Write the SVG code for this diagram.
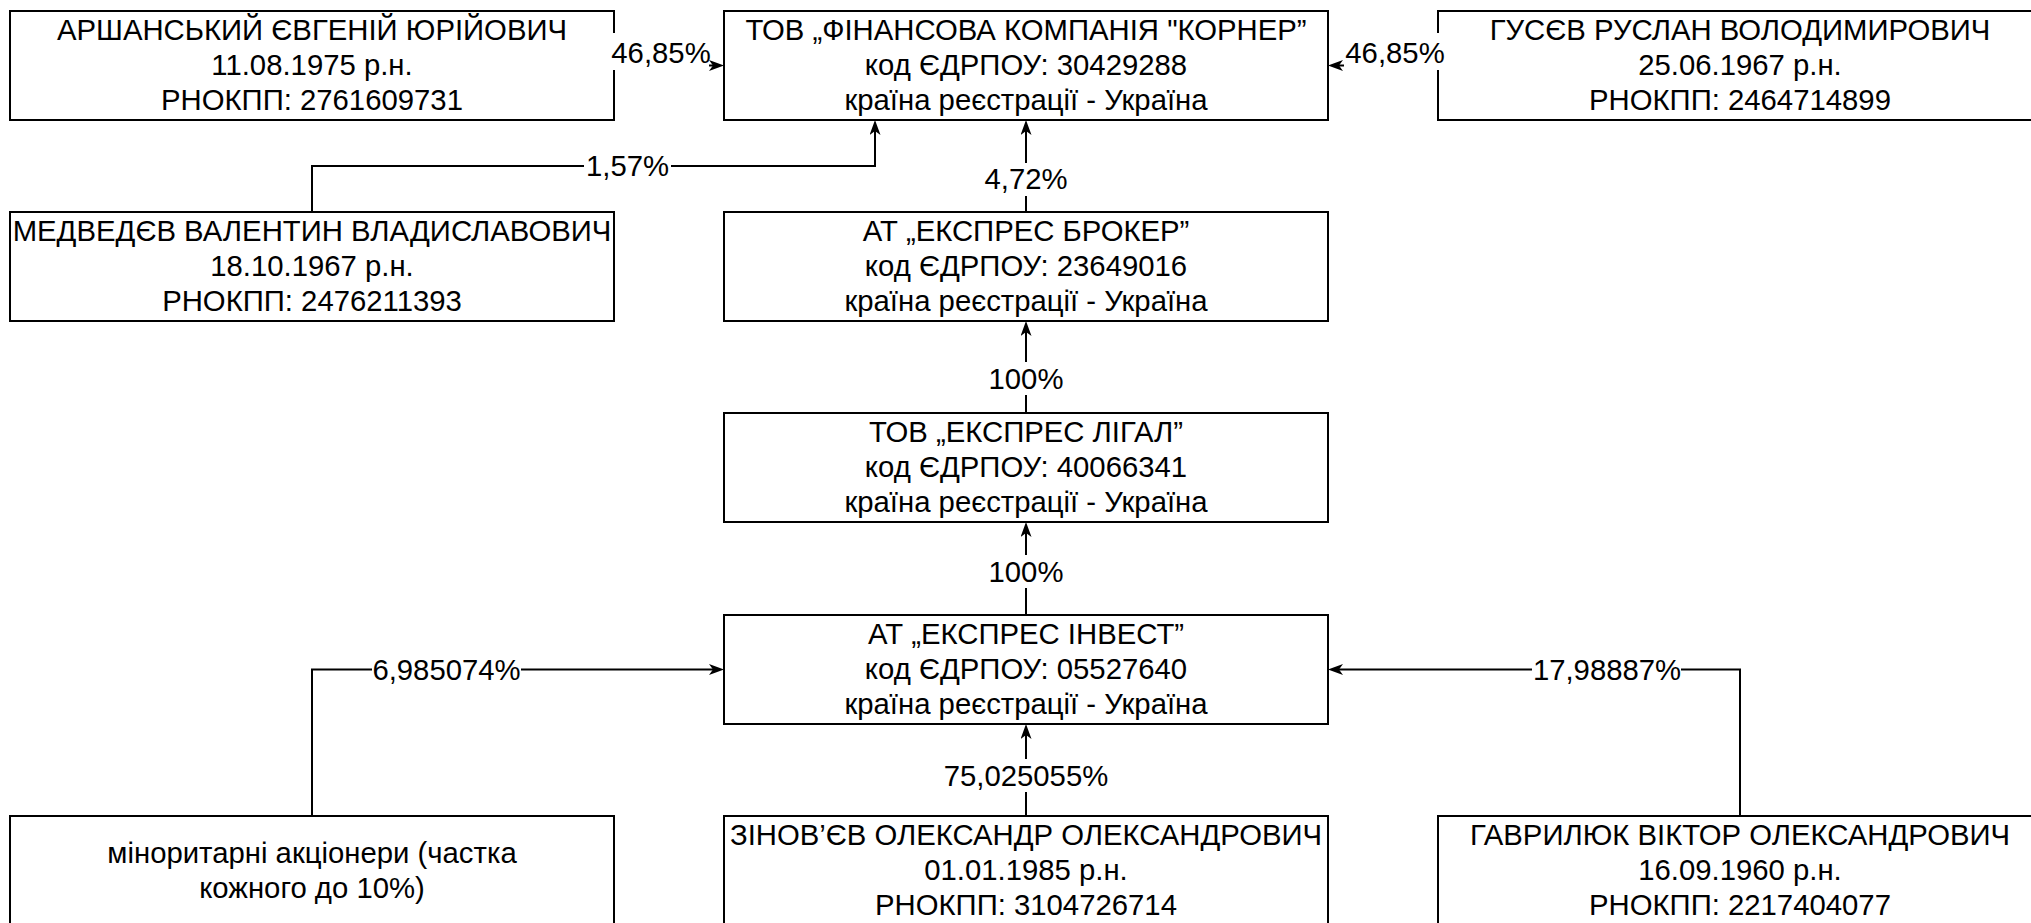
<svg xmlns="http://www.w3.org/2000/svg" width="2031" height="923" viewBox="0 0 2031 923">
<defs>
<style>
.box{fill:#fff;stroke:#000;stroke-width:2}
.t{font-family:"Liberation Sans",Arial,Helvetica,sans-serif;font-size:29.3px;fill:#000;text-anchor:middle}
.e{fill:none;stroke:#000;stroke-width:2}
.lb{fill:#fff;stroke:none}
</style>
<marker id="arr" markerUnits="userSpaceOnUse" viewBox="0 0 15 11" markerWidth="15" markerHeight="11" refX="4" refY="5.5" orient="auto">
<path d="M15,5.5 L0,0 L4,5.5 L0,11 Z" fill="#000"/>
</marker>
</defs>
<rect width="2031" height="923" fill="#fff"/>
<g id="node-arshanskyi"><rect class="box" x="10" y="11" width="604" height="109"/>
<text class="t" x="312" y="40">АРШАНСЬКИЙ ЄВГЕНІЙ ЮРІЙОВИЧ</text>
<text class="t" x="312" y="75">11.08.1975 р.н.</text>
<text class="t" x="312" y="110">РНОКПП: 2761609731</text></g>
<g id="node-korner"><rect class="box" x="724" y="11" width="604" height="109"/>
<text class="t" x="1026" y="40">ТОВ „ФІНАНСОВА КОМПАНІЯ "КОРНЕР”</text>
<text class="t" x="1026" y="75">код ЄДРПОУ: 30429288</text>
<text class="t" x="1026" y="110">країна реєстрації - Україна</text></g>
<g id="node-gusiev"><rect class="box" x="1438" y="11" width="604" height="109"/>
<text class="t" x="1740" y="40">ГУСЄВ РУСЛАН ВОЛОДИМИРОВИЧ</text>
<text class="t" x="1740" y="75">25.06.1967 р.н.</text>
<text class="t" x="1740" y="110">РНОКПП: 2464714899</text></g>
<g id="node-medvediev"><rect class="box" x="10" y="212" width="604" height="109"/>
<text class="t" x="312" y="241">МЕДВЕДЄВ ВАЛЕНТИН ВЛАДИСЛАВОВИЧ</text>
<text class="t" x="312" y="276">18.10.1967 р.н.</text>
<text class="t" x="312" y="311">РНОКПП: 2476211393</text></g>
<g id="node-broker"><rect class="box" x="724" y="212" width="604" height="109"/>
<text class="t" x="1026" y="241">АТ „ЕКСПРЕС БРОКЕР”</text>
<text class="t" x="1026" y="276">код ЄДРПОУ: 23649016</text>
<text class="t" x="1026" y="311">країна реєстрації - Україна</text></g>
<g id="node-ligal"><rect class="box" x="724" y="413" width="604" height="109"/>
<text class="t" x="1026" y="442">ТОВ „ЕКСПРЕС ЛІГАЛ”</text>
<text class="t" x="1026" y="477">код ЄДРПОУ: 40066341</text>
<text class="t" x="1026" y="512">країна реєстрації - Україна</text></g>
<g id="node-invest"><rect class="box" x="724" y="615" width="604" height="109"/>
<text class="t" x="1026" y="644">АТ „ЕКСПРЕС ІНВЕСТ”</text>
<text class="t" x="1026" y="679">код ЄДРПОУ: 05527640</text>
<text class="t" x="1026" y="714">країна реєстрації - Україна</text></g>
<g id="node-minority"><rect class="box" x="10" y="816" width="604" height="109"/>
<text class="t" x="312" y="863">міноритарні акціонери (частка</text>
<text class="t" x="312" y="898">кожного до 10%)</text></g>
<g id="node-zinoviev"><rect class="box" x="724" y="816" width="604" height="109"/>
<text class="t" x="1026" y="845">ЗІНОВ’ЄВ ОЛЕКСАНДР ОЛЕКСАНДРОВИЧ</text>
<text class="t" x="1026" y="880">01.01.1985 р.н.</text>
<text class="t" x="1026" y="915">РНОКПП: 3104726714</text></g>
<g id="node-gavryliuk"><rect class="box" x="1438" y="816" width="604" height="109"/>
<text class="t" x="1740" y="845">ГАВРИЛЮК ВІКТОР ОЛЕКСАНДРОВИЧ</text>
<text class="t" x="1740" y="880">16.09.1960 р.н.</text>
<text class="t" x="1740" y="915">РНОКПП: 2217404077</text></g>
<g id="connectors">
<path class="e" d="M614,65.5 H713" marker-end="url(#arr)"/>
<path class="e" d="M1438,65.5 H1339" marker-end="url(#arr)"/>
<path class="e" d="M312,212 V166 H875 V131" marker-end="url(#arr)"/>
<path class="e" d="M1026,212 V131" marker-end="url(#arr)"/>
<path class="e" d="M1026,413 V332" marker-end="url(#arr)"/>
<path class="e" d="M1026,615 V533" marker-end="url(#arr)"/>
<path class="e" d="M1026,816 V735" marker-end="url(#arr)"/>
<path class="e" d="M312,816 V669.5 H713" marker-end="url(#arr)"/>
<path class="e" d="M1740,816 V669.5 H1339" marker-end="url(#arr)"/>
<rect class="lb" x="611" y="33" width="98" height="37"/>
<text class="t" x="661" y="63">46,85%</text>
<rect class="lb" x="1344" y="33" width="102" height="37"/>
<text class="t" x="1395" y="63">46,85%</text>
<rect class="lb" x="584" y="150" width="87" height="33"/>
<text class="t" x="627.5" y="176">1,57%</text>
<rect class="lb" x="983" y="163" width="87" height="33"/>
<text class="t" x="1026" y="189">4,72%</text>
<rect class="lb" x="987" y="362" width="78" height="33"/>
<text class="t" x="1026" y="389">100%</text>
<rect class="lb" x="987" y="555" width="78" height="33"/>
<text class="t" x="1026" y="582">100%</text>
<rect class="lb" x="944" y="759" width="164" height="33"/>
<text class="t" x="1026" y="786">75,025055%</text>
<rect class="lb" x="372" y="653" width="149" height="33"/>
<text class="t" x="446.5" y="680">6,985074%</text>
<rect class="lb" x="1532" y="653" width="149" height="33"/>
<text class="t" x="1607" y="680">17,98887%</text>
</g>
</svg>
